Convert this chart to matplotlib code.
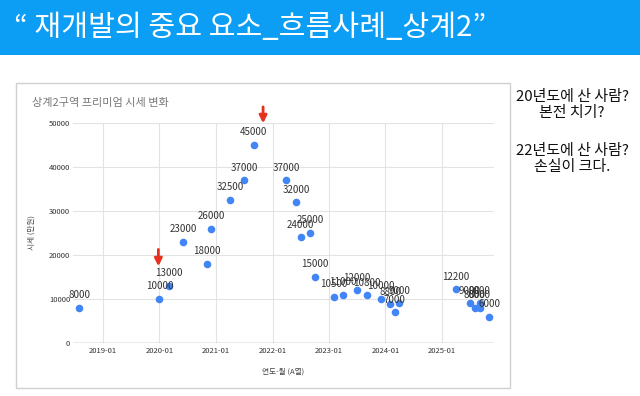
import matplotlib
matplotlib.use('Agg')
import matplotlib.pyplot as plt
import matplotlib.dates as mdates
from matplotlib.patches import Rectangle
import pandas as pd

# 한글 폰트
plt.rcParams['font.family'] = ['Noto Sans CJK KR', 'DejaVu Sans']
plt.rcParams['axes.unicode_minus'] = False

# 데이터 (연도-월, 프리미엄 만원)
months = ['2018-08', '2020-01', '2020-03', '2020-06', '2020-11', '2020-12',
          '2021-04', '2021-07', '2021-09', '2022-04', '2022-06', '2022-07',
          '2022-09', '2022-10', '2023-02', '2023-04', '2023-07', '2023-09',
          '2023-12', '2024-02', '2024-03', '2024-04', '2025-04', '2025-07',
          '2025-08', '2025-09', '2025-09', '2025-11']
premium = [8000, 10000, 13000, 23000, 18000, 26000,
           32500, 37000, 45000, 37000, 32000, 24000,
           25000, 15000, 10500, 11000, 12000, 10800,
           10000, 8800, 7000, 9000, 12200, 9000,
           8000, 9000, 8000, 6000]

title = '“ 재개발의 중요 요소_흐름사례_상계2”'
chart_title = '상계2구역 프리미엄 시세 변화'
side_text = ['20년도에 산 사람?', '본전 치기?', '22년도에 산 사람?', '손실이 크다.']

dates = pd.to_datetime(months)

W, H = 640, 396
fig = plt.figure(figsize=(6.4, 3.96), dpi=100)

# 상단 파란 배너
fig.patches.append(Rectangle((0, 1 - 55 / H), 1, 55 / H, transform=fig.transFigure,
                             facecolor='#0c9df4', edgecolor='none'))
fig.text(14 / W, 1 - 28 / H, title, color='white', fontsize=21, va='center')

# 차트 테두리
fig.patches.append(Rectangle((16 / W, 1 - 388 / H), (510 - 16) / W, (388 - 83) / H,
                             transform=fig.transFigure, fill=False,
                             edgecolor='#d0d0d0', linewidth=1))
fig.text(32 / W, 1 - 103 / H, chart_title, color='#777777', fontsize=8, va='center')

ax = fig.add_axes([73 / W, 1 - 343 / H, (494 - 73) / W, (343 - 123) / H])

ax.scatter(dates, premium, s=30, color='#4285f4', zorder=3, linewidths=0)

# 데이터 라벨
for d, v in zip(dates, premium):
    ax.annotate(str(v), (d, v), xytext=(0, 5.5), textcoords='offset points',
                ha='center', va='bottom', fontsize=7, color='#333333', zorder=4)

ax.set_xlim(pd.Timestamp('2018-06-21'), pd.Timestamp('2025-12-03'))
ax.set_ylim(0, 50000)
ax.set_yticks(range(0, 50001, 10000))
ax.xaxis.set_major_locator(mdates.YearLocator())
ax.xaxis.set_major_formatter(mdates.DateFormatter('%Y-%m'))

ax.grid(True, color='#e3e3e3', linewidth=0.8)
ax.set_axisbelow(True)
ax.axhline(0, color='#9e9e9e', linewidth=1, zorder=2)
for s in ax.spines.values():
    s.set_visible(False)
ax.tick_params(length=0, labelsize=5.5, labelcolor='#333333')
ax.tick_params(axis='y', pad=2)
ax.tick_params(axis='x', pad=3)

ax.set_ylabel('시세 (만원)', fontsize=5.5, color='#444444')
ax.yaxis.set_label_coords(-37 / 421, 0.5)
ax.set_xlabel('연도-월 (A열)', fontsize=5.5, color='#444444')
ax.xaxis.set_label_coords(0.5, -25 / 220)

# 빨간 화살표
arrow = dict(arrowstyle='-|>', color='#e8301f', lw=2, mutation_scale=11)
ax.annotate('', xy=(pd.Timestamp('2021-11-01'), 49300),
            xytext=(pd.Timestamp('2021-11-01'), 54300),
            arrowprops=arrow, annotation_clip=False)
ax.annotate('', xy=(pd.Timestamp('2019-12-25'), 16800),
            xytext=(pd.Timestamp('2019-12-25'), 21900),
            arrowprops=arrow, annotation_clip=False)

# 오른쪽 설명
ys = [97, 113, 151, 167]
for t, y in zip(side_text, ys):
    fig.text(572 / W, 1 - y / H, t, ha='center', va='center', fontsize=10.8,
             fontweight='medium', color='#111111')

fig.savefig('out.png', dpi=100)
